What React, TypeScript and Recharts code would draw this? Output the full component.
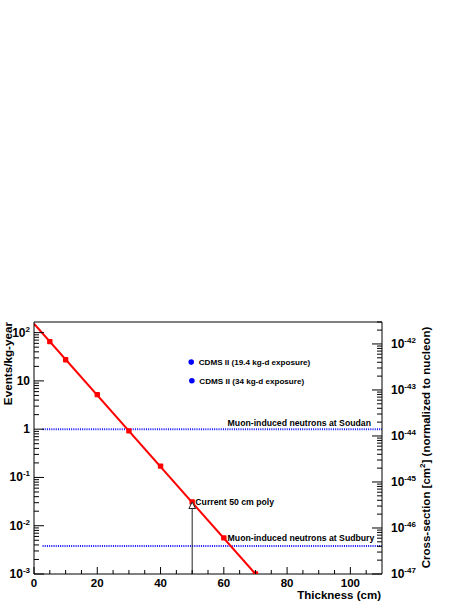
import React from 'react';
import { ComposedChart, Line, XAxis, YAxis, ReferenceLine } from 'recharts';

// ---- data ----
const fitX = [0, 70];
const fitY = [153, 0.001];
const markerX = [5, 10, 20, 30, 40, 50, 60, 70];
const markerY = [65, 27.5, 5.2, 0.92, 0.172, 0.031, 0.0056, 0.001];
const soudanLevel = 1;
const sudburyLevel = 0.0038;
const bgLineX = [2.7, 110];
const cdmsX = [49.7, 49.9];
const cdmsY = [24.5, 10.1];
const cdmsLabels = ['CDMS II (19.4 kg-d exposure)', 'CDMS II (34 kg-d exposure)'];
const arrowX = 50;
const arrowBaseY = [0.001, 0.0235];
const arrowTipY = 0.031;
const annotX = [61.2, 61.2, 51.0];
const annotY = [1, 0.0038, 0.031];
const annotText = ['Muon-induced neutrons at Soudan', 'Muon-induced neutrons at Sudbury', 'Current 50 cm poly'];

const xTicks = [0, 5, 10, 15, 20, 25, 30, 35, 40, 45, 50, 55, 60, 65, 70, 75, 80, 85, 90, 95, 100, 105];
const xLabelTicks = [0, 20, 40, 60, 80, 100];
const leftDecades = [1e-3, 1e-2, 1e-1, 1, 10, 100];
const leftLabels = [['10', '-3'], ['10', '-2'], ['10', '-1'], ['1', ''], ['10', ''], ['10', '2']];
const rightDecades = [1e-47, 1e-46, 1e-45, 1e-44, 1e-43, 1e-42];
const rightLabels = ['-47', '-46', '-45', '-44', '-43', '-42'];
const minorMult = [2, 3, 4, 5, 6, 7, 8, 9];

const leftDomain: [number, number] = [0.001, 166];
const rightDomain: [number, number] = [1e-47, 3.0e-42];

const FONT = '"Liberation Sans", Arial, Helvetica, sans-serif';

function buildTicks(decades: number[], max: number) {
  const out: number[] = [];
  decades.forEach((d) => {
    out.push(d);
    minorMult.forEach((m) => {
      const v = d * m;
      if (v <= max) out.push(v);
    });
  });
  return out.sort((a, b) => a - b);
}
const leftTicks = buildTicks(leftDecades, leftDomain[1]);
const rightTicks = buildTicks(rightDecades, rightDomain[1]);

const fitData = fitX.map((x, i) => ({ x, y: fitY[i] }));
const markerData = markerX.map((x, i) => ({ x, y: markerY[i] }));
const soudanData = bgLineX.map((x) => ({ x, y: soudanLevel }));
const sudburyData = bgLineX.map((x) => ({ x, y: sudburyLevel }));
const cdmsData = cdmsX.map((x, i) => ({ x, y: cdmsY[i], text: cdmsLabels[i] }));
const arrowData = arrowBaseY.map((y) => ({ x: arrowX, y }));
const arrowTipData = [{ x: arrowX, y: arrowTipY }];
const annotData = annotX.map((x, i) => ({ x, y: annotY[i], text: annotText[i] }));

const isDecade = (v: number) => Math.abs(Math.log10(v) - Math.round(Math.log10(v))) < 1e-6;

const LeftTick = (props: any) => {
  const { x, y, payload } = props;
  const v = payload.value;
  const major = isDecade(v);
  const idx = leftDecades.findIndex((d) => Math.abs(Math.log10(d) - Math.log10(v)) < 1e-6);
  return (
    <g>
      <line x1={x} x2={x + (major ? 10 : 5)} y1={y} y2={y} stroke="#000" strokeWidth={1} />
      {major && idx >= 0 && (
        <text x={x - 4} y={y + 4} textAnchor="end" fontFamily={FONT} fontWeight="bold" fontSize={12} fill="#000">
          <tspan>{leftLabels[idx][0]}</tspan>
          {leftLabels[idx][1] && (
            <tspan dy={-5} fontSize={8}>
              {leftLabels[idx][1]}
            </tspan>
          )}
        </text>
      )}
    </g>
  );
};

const RightTick = (props: any) => {
  const { x, y, payload } = props;
  const v = payload.value;
  const major = isDecade(v);
  const idx = rightDecades.findIndex((d) => Math.abs(Math.log10(d) - Math.log10(v)) < 1e-6);
  return (
    <g>
      <line x1={x} x2={x - (major ? 10 : 5)} y1={y} y2={y} stroke="#000" strokeWidth={1} />
      {major && idx >= 0 && (
        <text x={x + 9} y={y + 4} textAnchor="start" fontFamily={FONT} fontWeight="bold" fontSize={12} fill="#000">
          <tspan>10</tspan>
          <tspan dy={-5} fontSize={8}>
            {rightLabels[idx]}
          </tspan>
        </text>
      )}
    </g>
  );
};

const BottomTick = (props: any) => {
  const { x, y, payload } = props;
  const v = payload.value;
  const major = xLabelTicks.includes(v);
  return (
    <g>
      <line x1={x} x2={x} y1={y} y2={y - (major ? 7 : 4)} stroke="#000" strokeWidth={1} />
      {major && (
        <text x={x} y={y + 12.5} textAnchor="middle" fontFamily={FONT} fontWeight="bold" fontSize={11.5} fill="#000">
          {v}
        </text>
      )}
    </g>
  );
};

const SquareDot = (props: any) => {
  const { cx, cy } = props;
  if (cx == null || cy == null) return <g />;
  return <rect x={cx - 2.7} y={cy - 2.7} width={5.4} height={5.4} rx={0.8} fill="#ff0000" />;
};

const CdmsDot = (props: any) => {
  const { cx, cy, payload } = props;
  if (cx == null || cy == null) return <g />;
  return (
    <g>
      <circle cx={cx} cy={cy} r={2.8} fill="#0000ff" />
      <text x={cx + 7.5} y={cy + 2.9} fontFamily={FONT} fontWeight="bold" fontSize={8.1} fill="#000">
        {payload.text}
      </text>
    </g>
  );
};

const AnnotDot = (props: any) => {
  const { cx, cy, payload, index } = props;
  if (cx == null || cy == null) return <g />;
  const dy = index === 0 ? -3 : index === 1 ? -5.5 : 2.5;
  return (
    <text x={cx} y={cy + dy} fontFamily={FONT} fontWeight="bold" fontSize={8.7} fill="#000">
      {payload.text}
    </text>
  );
};

const ArrowHead = (props: any) => {
  const { cx, cy } = props;
  if (cx == null || cy == null) return <g />;
  return (
    <polygon
      points={`${cx},${cy} ${cx - 3.3},${cy + 6.5} ${cx + 3.3},${cy + 6.5}`}
      fill="#fff"
      stroke="#222"
      strokeWidth={1}
    />
  );
};

const LeftLabel = (props: any) => {
  const vb = props.viewBox || { x: 0, y: 322, height: 252 };
  const x = 11.5;
  const y = vb.y;
  return (
    <text
      x={x}
      y={y}
      transform={`rotate(-90, ${x}, ${y})`}
      textAnchor="end"
      fontFamily={FONT}
      fontWeight="bold"
      fontSize={11.7}
      fill="#000"
    >
      Events/kg-year
    </text>
  );
};

const RightLabel = (props: any) => {
  const vb = props.viewBox || { x: 382, y: 322, height: 252 };
  const x = 430;
  const y = vb.y + vb.height / 2 - 0.5;
  return (
    <text
      x={x}
      y={y}
      transform={`rotate(-90, ${x}, ${y})`}
      textAnchor="middle"
      fontFamily={FONT}
      fontWeight="bold"
      fontSize={11.5}
      fill="#000"
    >
      <tspan>Cross-section [cm</tspan>
      <tspan dy={-5} fontSize={8}>2</tspan>
      <tspan dy={5}>] (normalized to nucleon)</tspan>
    </text>
  );
};

const BottomLabel = () => {
  return (
    <text x={381} y={599} textAnchor="end" fontFamily={FONT} fontWeight="bold" fontSize={11.5} fill="#000">
      Thickness (cm)
    </text>
  );
};

export default function App() {
  return (
    <div style={{ position: 'absolute', left: 0, top: 0, width: 469, height: 607, background: '#fff' }}>
      <ComposedChart width={469} height={607} margin={{ top: 322, right: 0, bottom: 0, left: 0 }}>
        <XAxis
          dataKey="x"
          type="number"
          domain={[0, 110]}
          ticks={xTicks}
          interval={0}
          height={33}
          tickSize={0}
          tickMargin={0}
          tickLine={false}
          tick={<BottomTick />}
          axisLine={{ stroke: '#000', strokeWidth: 1 }}
          allowDataOverflow
          label={<BottomLabel />}
        />
        <YAxis
          yAxisId="left"
          dataKey="y"
          type="number"
          scale="log"
          domain={leftDomain}
          ticks={leftTicks}
          interval={0}
          width={34}
          tickSize={0}
          tickMargin={0}
          tickLine={false}
          tick={<LeftTick />}
          axisLine={{ stroke: '#000', strokeWidth: 1 }}
          allowDataOverflow
          label={<LeftLabel />}
        />
        <YAxis
          yAxisId="right"
          orientation="right"
          type="number"
          scale="log"
          domain={rightDomain}
          ticks={rightTicks}
          interval={0}
          width={87}
          tickSize={0}
          tickMargin={0}
          tickLine={false}
          tick={<RightTick />}
          axisLine={{ stroke: '#000', strokeWidth: 1 }}
          allowDataOverflow
          label={<RightLabel />}
        />
        <ReferenceLine yAxisId="left" y={leftDomain[1]} stroke="#000" strokeWidth={1} />
        <Line
          yAxisId="left"
          data={soudanData}
          dataKey="y"
          stroke="#1010ff"
          strokeWidth={2}
          strokeDasharray="1 1.2"
          dot={false}
          isAnimationActive={false}
        />
        <Line
          yAxisId="left"
          data={sudburyData}
          dataKey="y"
          stroke="#1010ff"
          strokeWidth={2}
          strokeDasharray="1 1.2"
          dot={false}
          isAnimationActive={false}
        />
        <Line
          yAxisId="left"
          data={arrowData}
          dataKey="y"
          stroke="#222"
          strokeWidth={1}
          dot={false}
          isAnimationActive={false}
        />
        <Line
          yAxisId="left"
          data={fitData}
          dataKey="y"
          stroke="#ff0000"
          strokeWidth={2}
          dot={false}
          isAnimationActive={false}
        />
        <Line
          yAxisId="left"
          data={markerData}
          dataKey="y"
          stroke="none"
          dot={<SquareDot />}
          isAnimationActive={false}
        />
        <Line
          yAxisId="left"
          data={arrowTipData}
          dataKey="y"
          stroke="none"
          dot={<ArrowHead />}
          isAnimationActive={false}
        />
        <Line
          yAxisId="left"
          data={cdmsData}
          dataKey="y"
          stroke="none"
          dot={<CdmsDot />}
          isAnimationActive={false}
        />
        <Line
          yAxisId="left"
          data={annotData}
          dataKey="y"
          stroke="none"
          dot={<AnnotDot />}
          isAnimationActive={false}
        />
      </ComposedChart>
    </div>
  );
}
